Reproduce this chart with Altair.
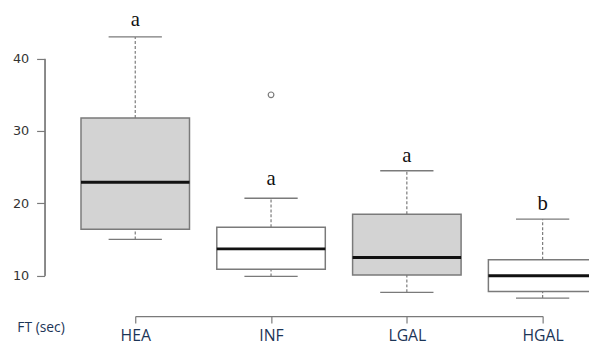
import altair as alt
import pandas as pd

categories = ["HEA", "INF", "LGAL", "HGAL"]
whisker_low = [15.0, 9.9, 7.7, 6.9]
q1 = [16.4, 10.9, 10.1, 7.8]
median = [22.9, 13.7, 12.5, 10.0]
q3 = [31.8, 16.7, 18.5, 12.2]
whisker_high = [43.0, 20.7, 24.5, 17.8]
box_fill = ["#d3d3d3", "#ffffff", "#d3d3d3", "#ffffff"]
letters = ["a", "a", "a", "b"]
letter_pos = [44.5, 22.5, 25.7, 19.1]
outlier_cat = ["INF"]
outlier_val = [35.0]
y_ticks = [10, 20, 30, 40]

NAVY = "#1c3557"
GRAY = "#7a7a7a"

stats = pd.DataFrame({
    "cat": categories, "lo": whisker_low, "q1": q1, "med": median,
    "q3": q3, "hi": whisker_high, "fill": box_fill,
    "letter": letters, "lpos": letter_pos,
})
outl = pd.DataFrame({"cat": outlier_cat, "val": outlier_val})
yline = pd.DataFrame({"v": [min(y_ticks), max(y_ticks)]})

H = 293.33
W = 552
AX_OFF = 4.33

yscale = alt.Scale(domain=[min(y_ticks), max(y_ticks)], range=[256.67, 36.67],
                   nice=False, zero=False)
xscale = alt.Scale(type="point", domain=categories, range=[92, 505], padding=0)

x_axis = alt.Axis(
    domain=True, domainColor=GRAY, domainWidth=1.2, grid=False,
    tickSize=7, tickColor=GRAY, tickWidth=1.2,
    labelFont="Open Sans", labelFontSize=16, labelColor=NAVY, labelPadding=5,
    labelAngle=0, offset=AX_OFF, title="FT (sec)", titleX=-28, titleY=12,
    titleAlign="left", titleBaseline="middle", titleFont="Open Sans",
    titleFontSize=14, titleFontWeight="normal", titleColor=NAVY,
)
y_axis = alt.Axis(
    values=y_ticks, domain=True, domainColor=GRAY, domainWidth=1.3, grid=False,
    tickSize=8, tickColor=GRAY, tickWidth=1.2, labelPadding=8,
    labelFont="DejaVu Sans", labelFontSize=13, labelColor="#333333", title=None,
)


def X():
    return alt.X("cat:N", scale=xscale, axis=x_axis)


def Y(field):
    return alt.Y(field, scale=yscale, axis=y_axis)


base = alt.Chart(stats)

whisk_lo = base.mark_rule(color=GRAY, strokeWidth=1.2, strokeDash=[3, 2]).encode(
    x=X(), y=Y("lo:Q"), y2="q1:Q")
whisk_hi = base.mark_rule(color=GRAY, strokeWidth=1.2, strokeDash=[3, 2]).encode(
    x=X(), y=Y("q3:Q"), y2="hi:Q")
cap_lo = base.mark_tick(color=GRAY, size=54, thickness=1.3, opacity=1).encode(
    x=X(), y=Y("lo:Q"))
cap_hi = base.mark_tick(color=GRAY, size=54, thickness=1.3, opacity=1).encode(
    x=X(), y=Y("hi:Q"))
box = base.mark_bar(size=110, stroke=GRAY, strokeWidth=1.5, opacity=1).encode(
    x=X(), y=Y("q1:Q"), y2="q3:Q",
    fill=alt.Fill("fill:N", scale=None))
med = base.mark_tick(color="#111111", size=110, thickness=3, opacity=1).encode(
    x=X(), y=Y("med:Q"))
txt = base.mark_text(font="Liberation Serif", fontSize=21, baseline="alphabetic",
                     color="#111111").encode(
    x=X(), y=Y("lpos:Q"), text="letter:N")
pts = alt.Chart(outl).mark_point(shape="circle", filled=False, size=33,
                                 color=GRAY, strokeWidth=1.2, opacity=1).encode(
    x=X(), y=Y("val:Q"))
# left axis line drawn as a path through the two end ticks
yaxis_line = alt.Chart(yline).mark_line(color=GRAY, strokeWidth=1.3,
                                        strokeDash=[4000, 1]).encode(
    x=alt.value(0.6), y=Y("v:Q"), order="v:Q")

chart = alt.layer(
    whisk_lo, whisk_hi, cap_lo, cap_hi, box, med, pts, txt, yaxis_line
).properties(
    width=W, height=H,
    padding={"left": 37, "top": 12.33, "right": 0, "bottom": 33.67},
    autosize=alt.AutoSizeParams(type="none"),
    background="white",
).configure_view(stroke=None)

chart.save("out.html", embed_options={"renderer": "svg", "actions": False})
